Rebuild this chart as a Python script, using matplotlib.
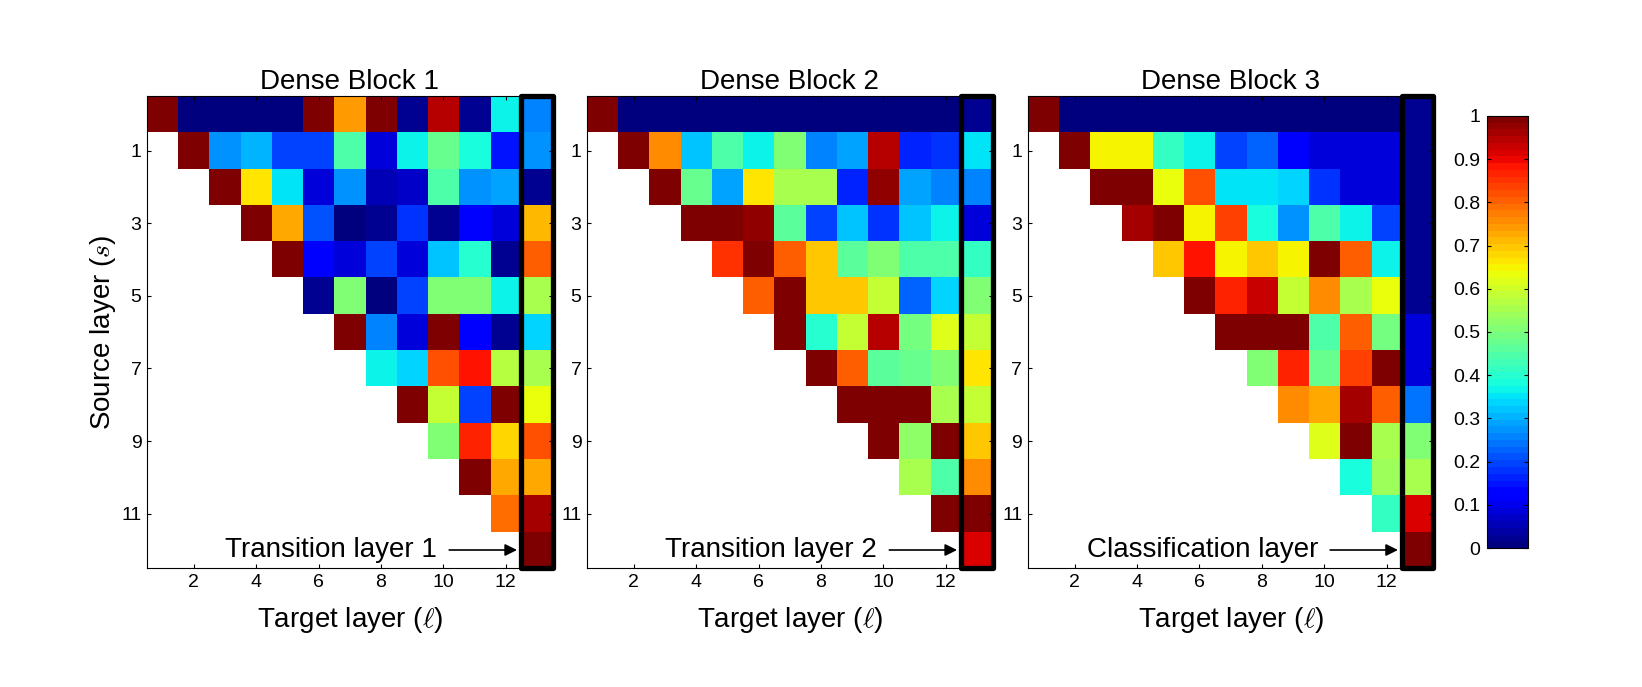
import numpy as np
import matplotlib
matplotlib.use('Agg')
import matplotlib.pyplot as plt
from matplotlib.patches import Rectangle

plt.rcParams['font.family'] = ['Liberation Sans', 'DejaVu Sans']
plt.rcParams['mathtext.fontset'] = 'cm'

# weights per source layer s (row), listed for target layers l = s+1 .. 13
# (column 13 = transition / classification layer)
block1 = [
    [1.0, 0.01, 0.01, 0.01, 0.01, 1.0, 0.74, 1.0, 0.02, 0.95, 0.02, 0.37, 0.26],
    [1.0, 0.28, 0.31, 0.19, 0.20, 0.44, 0.08, 0.37, 0.47, 0.39, 0.15, 0.27],
    [1.0, 0.67, 0.35, 0.08, 0.28, 0.06, 0.07, 0.44, 0.27, 0.29, 0.02],
    [1.0, 0.72, 0.21, 0.01, 0.02, 0.18, 0.02, 0.12, 0.09, 0.71],
    [1.0, 0.12, 0.09, 0.20, 0.09, 0.32, 0.40, 0.02, 0.81],
    [0.02, 0.51, 0.01, 0.20, 0.51, 0.51, 0.37, 0.55],
    [1.0, 0.25, 0.08, 1.0, 0.12, 0.02, 0.34],
    [0.37, 0.34, 0.82, 0.89, 0.57, 0.56],
    [1.0, 0.59, 0.20, 1.0, 0.63],
    [0.51, 0.87, 0.68, 0.82],
    [1.0, 0.72, 0.73],
    [0.79, 0.96],
    [1.0],
]
block2 = [
    [1.0, 0.01, 0.01, 0.01, 0.01, 0.01, 0.01, 0.01, 0.01, 0.01, 0.01, 0.01, 0.02],
    [1.0, 0.76, 0.32, 0.44, 0.36, 0.50, 0.25, 0.29, 0.95, 0.16, 0.18, 0.35],
    [1.0, 0.47, 0.29, 0.66, 0.56, 0.55, 0.16, 0.97, 0.29, 0.25, 0.25],
    [1.0, 1.0, 0.98, 0.46, 0.20, 0.32, 0.18, 0.32, 0.37, 0.08],
    [0.85, 1.0, 0.81, 0.69, 0.46, 0.51, 0.45, 0.45, 0.41],
    [0.81, 1.0, 0.70, 0.69, 0.58, 0.23, 0.34, 0.50],
    [1.0, 0.40, 0.59, 0.95, 0.49, 0.62, 0.59],
    [1.0, 0.81, 0.46, 0.48, 0.51, 0.67],
    [1.0, 1.0, 1.0, 0.55, 0.58],
    [1.0, 0.53, 1.0, 0.70],
    [0.56, 0.45, 0.76],
    [1.0, 1.0],
    [0.91],
]
block3 = [
    [1.0, 0.01, 0.01, 0.01, 0.01, 0.01, 0.01, 0.01, 0.01, 0.01, 0.01, 0.01, 0.02],
    [1.0, 0.65, 0.65, 0.42, 0.37, 0.20, 0.22, 0.12, 0.09, 0.09, 0.08, 0.02],
    [1.0, 1.0, 0.63, 0.82, 0.35, 0.35, 0.34, 0.18, 0.08, 0.08, 0.02],
    [0.96, 1.0, 0.65, 0.83, 0.39, 0.28, 0.45, 0.36, 0.20, 0.02],
    [0.69, 0.89, 0.65, 0.69, 0.65, 1.0, 0.81, 0.36, 0.02],
    [1.0, 0.87, 0.93, 0.59, 0.75, 0.56, 0.63, 0.02],
    [1.0, 1.0, 1.0, 0.45, 0.81, 0.49, 0.08],
    [0.51, 0.86, 0.47, 0.84, 1.0, 0.08],
    [0.75, 0.73, 0.96, 0.81, 0.24],
    [0.61, 1.0, 0.55, 0.50],
    [0.38, 0.54, 0.55],
    [0.41, 0.91],
    [1.0],
]

titles = ['Dense Block 1', 'Dense Block 2', 'Dense Block 3']
last_labels = ['Transition layer 1', 'Transition layer 2', 'Classification layer']
blocks = [block1, block2, block3]

n = 13
big = 20
small = 14


def to_matrix(rows):
    m = np.full((n, n), np.nan)
    for s, r in enumerate(rows):
        m[s, s:] = r
    return np.ma.masked_invalid(m)


cmap = plt.get_cmap('jet', 64).copy()
cmap.set_bad('white')

fig = plt.figure(figsize=(16.42, 6.87), dpi=100)
lefts = [0.0895, 0.3575, 0.626]
axes = []
for i, (rows, title, lab) in enumerate(zip(blocks, titles, last_labels)):
    ax = fig.add_axes([lefts[i], 0.173, 0.247, 0.687])
    im = ax.imshow(to_matrix(rows), cmap=cmap, vmin=0, vmax=1, aspect='auto',
                   interpolation='nearest', extent=(0.5, 13.5, 12.5, -0.5))
    ax.set_xticks(range(2, 13, 2))
    ax.set_yticks(range(1, 12, 2))
    ax.tick_params(direction='in', length=3, labelsize=small, width=0.8,
                   top=True, right=True, pad=4)
    for sp in ax.spines.values():
        sp.set_linewidth(0.8)
    ax.set_title(title, fontsize=big, pad=5)
    ax.set_xlabel(r'Target layer ($\ell$)', fontsize=big, labelpad=10)
    if i == 0:
        ax.set_ylabel(r'Source layer ($s$)', fontsize=big, labelpad=2)
    # box around the transition / classification column
    ax.add_patch(Rectangle((12.5, -0.5), 1, 13, fill=False, ec='black', lw=3.8,
                           joinstyle='round', clip_on=False, zorder=5))
    ax.text(9.8, 12.0, lab, fontsize=big, ha='right', va='center')
    ax.annotate('', xy=(12.45, 12.0), xytext=(10.1, 12.0),
                arrowprops=dict(arrowstyle='-|>', color='black', lw=1.2,
                                mutation_scale=18))
    axes.append(ax)

# panel 2 box sits on top of panel 3's tick labels as in the original
axes[1].set_zorder(3)

cax = fig.add_axes([0.9056, 0.2023, 0.025, 0.629])
cb = fig.colorbar(im, cax=cax, ticks=np.arange(0, 1.01, 0.1))
cb.ax.set_yticklabels(['0', '0.1', '0.2', '0.3', '0.4', '0.5', '0.6', '0.7', '0.8', '0.9', '1'])
cb.ax.yaxis.set_ticks_position('both')
cb.ax.yaxis.set_label_position('left')
cb.ax.tick_params(direction='in', length=3, labelsize=small, labelleft=True,
                  labelright=False, pad=5)
cb.outline.set_linewidth(0.8)

plt.savefig('out.png', dpi=100)
